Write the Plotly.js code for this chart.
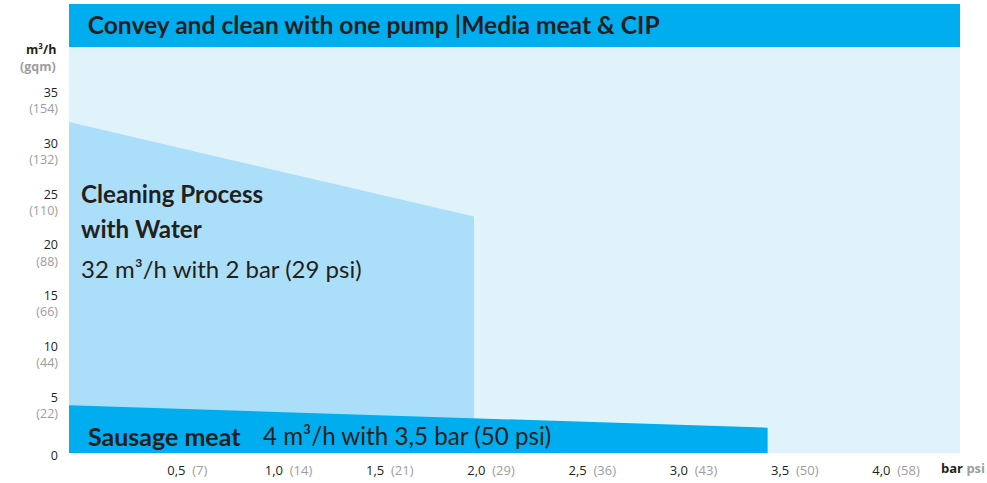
<!DOCTYPE html>
<html>
<head>
<meta charset="utf-8">
<script src="https://cdn.plot.ly/plotly-3.0.1.min.js"></script>
<style>
  body { margin: 0; padding: 0; background: #fff; }
  #plot { width: 987px; height: 483px; }
</style>
</head>
<body>
<div id="plot"></div>
<script>
// flow curves (bar -> m3/h)
let waterBar = [0, 2.0];
let waterFlow = [32.6, 23.3];
let sausageBar = [0, 3.45];
let sausageFlow = [4.7, 2.5];

// axis ticks
let xTickBar = [0.5, 1.0, 1.5, 2.0, 2.5, 3.0, 3.5, 4.0];
let xTickPsi = [7, 14, 21, 29, 36, 43, 50, 58];
let yTickFlow = [0, 5, 10, 15, 20, 25, 30, 35];
let yTickGqm = [null, 22, 44, 66, 88, 110, 132, 154];

const dark = "#231f20";
const grey = "#9d9d9d";
const bigFont = "Lato, sans-serif";
const smallFont = "Open Sans, Noto Sans, sans-serif";

let xTickText = xTickBar.map((b, i) =>
    b.toFixed(1).replace(".", ",") + "\u00a0\u00a0<span style='color:" + grey + "'>(" + xTickPsi[i] + ")</span>");
let yTickText = yTickFlow.map((f, i) =>
    yTickGqm[i] === null ? String(f) : f + "<br><span style='color:" + grey + "'>(" + yTickGqm[i] + ")</span>");

let water = {
    x: waterBar,
    y: waterFlow,
    type: "scatter",
    mode: "lines",
    fill: "tozeroy",
    fillcolor: "#abdff9",
    line: {width: 0},
    hoverinfo: "skip"
};

let sausage = {
    x: sausageBar,
    y: sausageFlow,
    type: "scatter",
    mode: "lines",
    fill: "tozeroy",
    fillcolor: "#00adee",
    line: {width: 0},
    hoverinfo: "skip"
};

let data = [water, sausage];

let layout = {
    width: 987,
    height: 483,
    margin: {l: 69, r: 27, t: 47, b: 30},
    paper_bgcolor: "#ffffff",
    plot_bgcolor: "#e0f3fb",
    showlegend: false,
    title: {
        text: "<b>Convey and clean with one pump |Media meat & CIP</b>",
        font: {family: bigFont, size: 24.6, color: dark},
        xref: "paper", x: 0.021, xanchor: "left",
        yref: "container", y: 0.948, yanchor: "middle"
    },
    xaxis: {
        range: [0, 4.4],
        showgrid: false, zeroline: false, showline: false, ticks: "",
        tickvals: xTickBar,
        ticktext: xTickText,
        tickfont: {family: smallFont, size: 13, color: dark},
        ticklabelshift: 17,
        ticklabelstandoff: 8,
        fixedrange: true
    },
    yaxis: {
        range: [0, 40],
        showgrid: false, zeroline: false, showline: false, ticks: "",
        tickvals: yTickFlow,
        ticktext: yTickText,
        tickfont: {family: smallFont, size: 12.5, color: dark},
        ticklabelstandoff: 10,
        ticklabelshift: 3,
        fixedrange: true
    },
    shapes: [{
        type: "rect", xref: "paper", yref: "paper",
        x0: 0, x1: 1, y0: 1, y1: 1.106,
        fillcolor: "#00adee", line: {width: 0}, layer: "below"
    }],
    annotations: [
        {text: "<b>Cleaning Process</b>", x: 0.05, y: 25.6, xanchor: "left", yanchor: "middle",
         showarrow: false, font: {family: bigFont, size: 24.2, color: dark}},
        {text: "<b>with Water</b>", x: 0.05, y: 22.1, xanchor: "left", yanchor: "middle",
         showarrow: false, font: {family: bigFont, size: 24.2, color: dark}},
        {text: "32 m³/h with 2 bar (29 psi)", x: 0.05, y: 18.2, xanchor: "left", yanchor: "middle",
         showarrow: false, font: {family: bigFont, size: 24, color: dark}},
        {text: "<b>Sausage meat</b>", x: 0.085, y: 1.7, xanchor: "left", yanchor: "middle",
         showarrow: false, font: {family: bigFont, size: 25, color: dark}},
        {text: "4 m³/h with 3,5 bar (50 psi)", x: 0.95, y: 1.75, xanchor: "left", yanchor: "middle",
         showarrow: false, font: {family: bigFont, size: 24.2, color: dark}},
        {text: "<b>m³/h</b>", xref: "paper", yref: "paper", x: -0.012, y: 0.995,
         xanchor: "right", yanchor: "middle", showarrow: false,
         font: {family: smallFont, size: 12.5, color: dark}},
        {text: "<b>(gqm)</b>", xref: "paper", yref: "paper", x: -0.012, y: 0.951,
         xanchor: "right", yanchor: "middle", showarrow: false,
         font: {family: smallFont, size: 12.5, color: grey}},
        {text: "<b>bar</b> <span style='color:" + grey + "'><b>psi</b></span>", xref: "paper", yref: "paper",
         x: 0.976, y: -0.036, xanchor: "left", yanchor: "middle", showarrow: false,
         font: {family: smallFont, size: 13, color: dark}}
    ]
};

Plotly.newPlot("plot", data, layout, {displayModeBar: false, staticPlot: true});
</script>
</body>
</html>
